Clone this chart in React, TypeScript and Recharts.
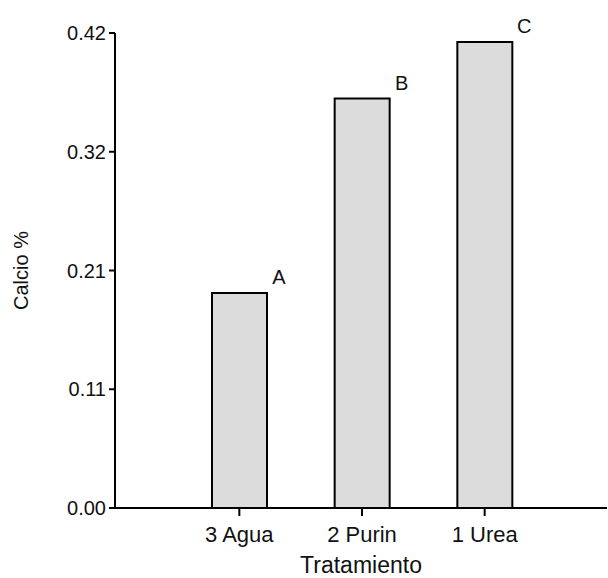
import { BarChart, Bar, XAxis, YAxis, LabelList, Label } from "recharts";

const categories = ["3 Agua", "2 Purin", "1 Urea"];
const calcio = [0.19, 0.362, 0.412];
const letters = ["A", "B", "C"];
const yTicks = [0, 0.105, 0.21, 0.315, 0.42];
const yTickLabels = ["0.00", "0.11", "0.21", "0.32", "0.42"];

const data = categories.map((name, i) => ({ name, value: calcio[i], letter: letters[i] }));

const FONT = "Arial, 'Liberation Sans', sans-serif";
const INK = "#111";

function LetterLabel(props: any) {
    const { x, y, width, value } = props;
    return (
        <text x={Number(x) + Number(width) + 12} y={Number(y) - 9} textAnchor="middle" fontFamily={FONT} fontSize={20} fill={INK}>
            {value}
        </text>
    );
}

export default function App() {
    return (
        <div style={{ position: "absolute", left: 0, top: 0, background: "#fff" }}>
            <BarChart width={608} height={578} data={data} margin={{ top: 33, right: 1, bottom: 0, left: 0 }}>
                <XAxis
                    dataKey="name"
                    height={70}
                    padding={{ left: 63, right: 61 }}
                    tickSize={8}
                    tickMargin={10}
                    axisLine={{ stroke: "#000", strokeWidth: 2 }}
                    tickLine={{ stroke: "#000", strokeWidth: 2 }}
                    tick={{ fill: INK, fontSize: 22, fontFamily: FONT }}
                >
                    <Label
                        content={({ viewBox }: any) => (
                            <text
                                x={viewBox.x + viewBox.width / 2}
                                y={viewBox.y + viewBox.height - 5}
                                textAnchor="middle"
                                fontFamily={FONT}
                                fontSize={23}
                                fill={INK}
                            >
                                Tratamiento
                            </text>
                        )}
                    />
                </XAxis>
                <YAxis
                    width={115}
                    domain={[0, 0.42]}
                    ticks={yTicks}
                    interval={0}
                    tickFormatter={(v: number) => yTickLabels[yTicks.indexOf(v)] ?? String(v)}
                    tickSize={6}
                    tickMargin={3}
                    axisLine={{ stroke: "#000", strokeWidth: 2 }}
                    tickLine={{ stroke: "#000", strokeWidth: 2 }}
                    tick={{ fill: INK, fontSize: 20, fontFamily: FONT }}
                >
                    <Label
                        content={({ viewBox }: any) => {
                            const cx = viewBox.x + 21;
                            const cy = viewBox.y + viewBox.height / 2;
                            return (
                                <text
                                    x={cx}
                                    y={cy}
                                    transform={`rotate(-90, ${cx}, ${cy})`}
                                    textAnchor="middle"
                                    dominantBaseline="central"
                                    fontFamily={FONT}
                                    fontSize={20}
                                    fill={INK}
                                >
                                    Calcio %
                                </text>
                            );
                        }}
                    />
                </YAxis>
                <Bar dataKey="value" barSize={55} fill="#dcdcdc" stroke="#000" strokeWidth={2} isAnimationActive={false}>
                    <LabelList dataKey="letter" content={LetterLabel} />
                </Bar>
            </BarChart>
        </div>
    );
}
